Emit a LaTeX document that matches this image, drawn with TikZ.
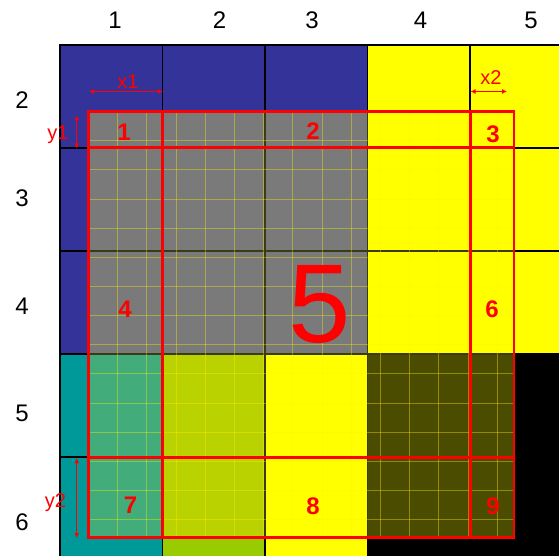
\documentclass[tikz,border=0pt]{standalone}
\usepackage{fontspec}
\setmainfont{Liberation Sans}
\usetikzlibrary{arrows.meta}
\definecolor{cblue}{HTML}{333399}
\definecolor{cyel}{HTML}{FFFF00}
\definecolor{cteal}{HTML}{009999}
\definecolor{cyg}{HTML}{99CC00}
\definecolor{ogray}{HTML}{7A7A7A}
\definecolor{oteal}{HTML}{42AC7A}
\definecolor{oyg}{HTML}{B9D200}
\definecolor{oblack}{HTML}{4C4C00}
\definecolor{olivel}{HTML}{3A3A14}
\definecolor{cred}{HTML}{FF0000}
\tikzset{
  gridline/.style={black, line width=1.5pt},
  gridin/.style={olivel, line width=1.5pt},
  meshline/.style={yellow, opacity=0.38, line width=0.9pt},
  redout/.style={cred, line width=2.2pt},
  redin/.style={cred, line width=3pt},
  axlab/.style={inner sep=0pt, font=\fontsize{24}{28}\selectfont, text=black},
  reglab/.style={inner sep=0pt, font=\fontsize{24}{28}\selectfont\bfseries, text=cred},
  dimlab/.style={inner sep=0pt, font=\fontsize{20}{24}\selectfont, text=cred},
  biglab/.style={inner sep=0pt, font=\fontsize{112}{120}\selectfont, text=cred},
  dimarrow/.style={cred, line width=1.5pt, {Latex[length=5pt,width=5pt]}-{Latex[length=5pt,width=5pt]}}
}
\begin{document}
\begin{tikzpicture}[x=1pt,y=-1pt]
\useasboundingbox (0,0) rectangle (559,556);
\begin{scope}
\clip (0,0) rectangle (559,556);
% base cells
\fill[cblue] (60,45) rectangle (367.5,354);
\fill[cyel] (367.5,45) rectangle (572.5,354);
\fill[cteal] (60,354) rectangle (162.5,560);
\fill[cyg] (162.5,354) rectangle (265,560);
\fill[cyel] (265,354) rectangle (367.5,560);
\fill[black] (367.5,354) rectangle (572.5,560);
% overlay region
\fill[ogray] (88.5,111.5) rectangle (367.5,354);
\fill[oteal] (88.5,354) rectangle (162.5,537.5);
\fill[oyg] (162.5,354) rectangle (265,537.5);
\fill[oblack] (367.5,354) rectangle (514,537.5);
% grid lines
\foreach \x in {60,162.5,265,367.5,470} \draw[gridline] (\x,45) -- (\x,560);
\foreach \y in {45,148,251,354,457} \draw[gridline] (59.25,\y) -- (572.5,\y);
\begin{scope}
\clip (88.5,111.5) rectangle (514,537.5);
\foreach \x in {162.5,265,367.5,470} \draw[gridin] (\x,45) -- (\x,560);
\foreach \y in {148,251,354,457} \draw[gridin] (60,\y) -- (572.5,\y);
\foreach \k in {1,...,14} {
  \draw[meshline] ({88.5+29.2*\k},111.5) -- ({88.5+29.2*\k},537.5);
  \draw[meshline] (88.5,{111.5+29.15*\k}) -- (514,{111.5+29.15*\k});
}
\end{scope}
% red partition
\draw[redin] (162.5,111.5) -- (162.5,537.5);
\draw[redin] (470,111.5) -- (470,537.5);
\draw[redin] (88.5,148) -- (514,148);
\draw[redin] (88.5,457.5) -- (514,457.5);
\draw[redout] (88.5,111.5) rectangle (514,537.5);
\end{scope}
% axis labels
\node[axlab] (c1) at (115,20) {1};
\node[axlab] (c2) at (219.5,20) {2};
\node[axlab] (c3) at (312,20) {3};
\node[axlab] (c4) at (420.5,20) {4};
\node[axlab] (c5) at (531,20) {5};
\node[axlab] (r2) at (22,100) {2};
\node[axlab] (r3) at (22,198) {3};
\node[axlab] (r4) at (22,306) {4};
\node[axlab] (r5) at (22,413) {5};
\node[axlab] (r6) at (22,522) {6};
% region labels
\node[reglab] (g1) at (124,132) {1};
\node[reglab] (g2) at (313,131) {2};
\node[reglab] (g3) at (493,134) {3};
\node[reglab] (g4) at (125,309) {4};
\node[biglab] (g5) at (320,305) {5};
\node[reglab] (g6) at (492,309) {6};
\node[reglab] (g7) at (130.5,505.5) {7};
\node[reglab] (g8) at (313,506) {8};
\node[reglab] (g9) at (493,506) {9};
% dimension labels and arrows
\node[dimlab] (lx1) at (128,82) {x1};
\node[dimlab] (lx2) at (491,77.5) {x2};
\node[dimlab] (ly1) at (58,135) {y1};
\node[dimlab] (ly2) at (55.5,503) {y2};
\coordinate (x1a) at (89,91.5);
\coordinate (x1b) at (163,91.5);
\coordinate (x2a) at (470.5,91.5);
\coordinate (x2b) at (507,91.5);
\coordinate (y1a) at (76.7,115.5);
\coordinate (y1b) at (76.7,148.5);
\coordinate (y2a) at (76.7,458);
\coordinate (y2b) at (76.7,538);
\draw[dimarrow] (x1a) -- (x1b);
\draw[dimarrow] (x2a) -- (x2b);
\draw[dimarrow] (y1a) -- (y1b);
\draw[dimarrow] (y2a) -- (y2b);
\end{tikzpicture}
\end{document}
